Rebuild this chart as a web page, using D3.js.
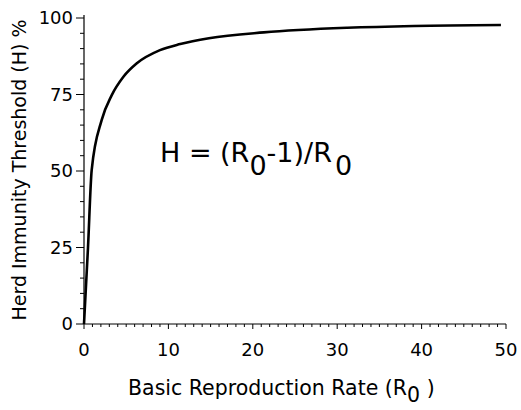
<!DOCTYPE html>
<html>
<head>
<meta charset="utf-8">
<script src="https://cdn.jsdelivr.net/npm/d3@7"></script>
<style>
  html, body { margin: 0; padding: 0; background: #fff; }
  svg { display: block; font-family: "DejaVu Sans", sans-serif; }
</style>
</head>
<body>
<div id="chart"></div>
<script>
// values
const r0 = [0, 0.47, 0.91, 2.1, 3.29, 4.67, 6.26, 9.0, 11.4, 14.8, 21.3, 31.2, 39.1, 49.4];
const herd = [0, 24.8, 50.3, 66.7, 74.8, 80.8, 85.2, 89.5, 91.5, 93.4, 95.3, 96.8, 97.4, 97.7];
const xTicks = [0, 10, 20, 30, 40, 50];
const yTicks = [0, 25, 50, 75, 100];

const W = 521, H = 410;
const x = d3.scaleLinear().domain([0, 50]).range([84, 506]);
const y = d3.scaleLinear().domain([0, 100]).range([324, 18]);

const svg = d3.select("#chart").append("svg").attr("width", W).attr("height", H);

// y axis: major ticks every 25, minor every 5, pointing left
svg.append("line").attr("x1", x(0)).attr("x2", x(0)).attr("y1", y(0)).attr("y2", y(100) - 3)
  .attr("stroke", "#000").attr("stroke-width", 1.2);
svg.append("g").selectAll("line").data(d3.range(0, 101, 5)).join("line")
  .attr("x1", (d) => x(0) - (d % 25 === 0 ? 8 : 4)).attr("x2", x(0))
  .attr("y1", (d) => y(d)).attr("y2", (d) => y(d))
  .attr("stroke", "#000").attr("stroke-width", 1);
svg.append("g").selectAll("text").data(yTicks).join("text")
  .attr("x", 73).attr("y", (d) => y(d)).attr("dy", ".36em").attr("text-anchor", "end")
  .attr("font-size", 18).text((d) => d);

// x axis: minor ticks every 1, major every 10, pointing down
svg.append("line").attr("x1", x(0)).attr("x2", x(50)).attr("y1", y(0)).attr("y2", y(0))
  .attr("stroke", "#000").attr("stroke-width", 1);
svg.append("g").selectAll("line").data(d3.range(0, 51, 1)).join("line")
  .attr("x1", (d) => x(d)).attr("x2", (d) => x(d))
  .attr("y1", y(0)).attr("y2", (d) => y(0) + (d % 10 === 0 ? 5 : 3))
  .attr("stroke", "#000").attr("stroke-width", 1);
svg.append("g").selectAll("text").data(xTicks).join("text")
  .attr("x", (d) => x(d)).attr("y", 356).attr("text-anchor", "middle")
  .attr("font-size", 18).text((d) => d);

// curve
const line = d3.line().x((d, i) => x(r0[i])).y((d) => y(d)).curve(d3.curveMonotoneX);
svg.append("path").attr("d", line(herd)).attr("fill", "none")
  .attr("stroke", "#000").attr("stroke-width", 2.6).attr("stroke-linejoin", "round");

// axis titles
const xt = svg.append("text").attr("x", 128).attr("y", 395).attr("font-size", 20.5);
xt.append("tspan").text("Basic Reproduction Rate (R");
xt.append("tspan").attr("dy", 7).text("0");
xt.append("tspan").attr("dy", -7).text(" )");

svg.append("text").attr("transform", "translate(26,170) rotate(-90)")
  .attr("text-anchor", "middle").attr("font-size", 19)
  .text("Herd Immunity Threshold (H) %");

// formula
const f = svg.append("text").attr("x", 160).attr("y", 162).attr("font-size", 27);
f.append("tspan").text("H = (R");
f.append("tspan").attr("dy", 13).text("0");
f.append("tspan").attr("dy", -13).text("-1)/R");
f.append("tspan").attr("dy", 13).attr("dx", 3).text("0");
</script>
</body>
</html>
